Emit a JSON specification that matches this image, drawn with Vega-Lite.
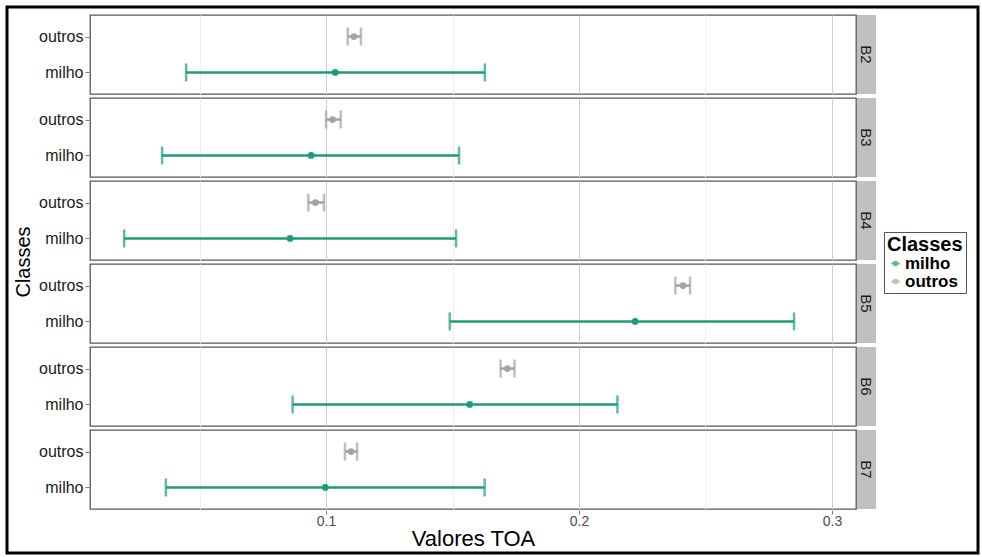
{
  "$schema": "https://vega.github.io/schema/vega-lite/v6.json",
  "background": "white",
  "autosize": {"type": "pad"},
  "padding": {"left": 5, "top": 5, "right": 0, "bottom": 0},
  "data": {
    "values": [
      {"banda": "B2", "classe": "outros", "media": 0.1110, "minimo": 0.1086, "maximo": 0.1138},
      {"banda": "B2", "classe": "milho", "media": 0.1036, "minimo": 0.0447, "maximo": 0.1628},
      {"banda": "B3", "classe": "outros", "media": 0.1026, "minimo": 0.1000, "maximo": 0.1058},
      {"banda": "B3", "classe": "milho", "media": 0.0941, "minimo": 0.0352, "maximo": 0.1526},
      {"banda": "B4", "classe": "outros", "media": 0.0958, "minimo": 0.0930, "maximo": 0.0992},
      {"banda": "B4", "classe": "milho", "media": 0.0858, "minimo": 0.0202, "maximo": 0.1514},
      {"banda": "B5", "classe": "outros", "media": 0.2411, "minimo": 0.2381, "maximo": 0.2439},
      {"banda": "B5", "classe": "milho", "media": 0.2222, "minimo": 0.1489, "maximo": 0.2850},
      {"banda": "B6", "classe": "outros", "media": 0.1717, "minimo": 0.1690, "maximo": 0.1745},
      {"banda": "B6", "classe": "milho", "media": 0.1568, "minimo": 0.0868, "maximo": 0.2152},
      {"banda": "B7", "classe": "outros", "media": 0.1099, "minimo": 0.1075, "maximo": 0.1123},
      {"banda": "B7", "classe": "milho", "media": 0.0997, "minimo": 0.0367, "maximo": 0.1627}
    ]
  },
  "facet": {
    "row": {
      "field": "banda",
      "type": "nominal",
      "header": {
        "labels": false,
        "title": "Classes",
        "titleFont": "Liberation Sans",
        "titleFontSize": 20,
        "titleFontWeight": "normal",
        "titleColor": "#000000",
        "titlePadding": -6
      }
    }
  },
  "spacing": {"row": 2},
  "spec": {
    "width": 766,
    "height": 79,
    "encoding": {
      "y": {
        "field": "classe",
        "type": "nominal",
        "scale": {"type": "point", "domain": ["outros", "milho"], "padding": 0.6},
        "axis": {"title": null}
      }
    },
    "layer": [
      {
        "transform": [{"filter": "datum.classe == 'milho'"}],
        "mark": {"type": "rect", "clip": false, "color": "#c0c0c0", "strokeWidth": 0, "strokeOpacity": 0},
        "encoding": {
          "y": null,
          "x": {
            "datum": 0.3099,
            "type": "quantitative",
            "scale": {"domain": [0.0067, 0.3095], "nice": false, "zero": false},
            "axis": {
              "title": "Valores TOA",
              "values": [0.05, 0.1, 0.15, 0.2, 0.25, 0.3],
              "labelExpr": "abs(datum.value * 10 - round(datum.value * 10)) < 0.001 ? format(datum.value, '.1f') : ''",
              "gridColor": {
                "condition": {"test": "abs(datum.value * 10 - round(datum.value * 10)) < 0.001", "value": "#cdcdcd"},
                "value": "#efefef"
              },
              "tickOpacity": {
                "condition": {"test": "abs(datum.value * 10 - round(datum.value * 10)) < 0.001", "value": 1},
                "value": 0
              }
            }
          },
          "x2": {"datum": 0.3174},
          "stroke": {
            "field": "media",
            "type": "quantitative",
            "legend": {
              "orient": "none",
              "legendX": -83,
              "legendY": -8,
              "direction": "horizontal",
              "title": null,
              "labelExpr": "''",
              "labelOpacity": 0,
              "labelFontSize": 1,
              "labelOffset": 0,
              "gradientLength": 971,
              "gradientThickness": 545,
              "gradientOpacity": 0,
              "gradientStrokeWidth": 0,
              "padding": 0,
              "strokeColor": "#000000",
              "encode": {"legend": {"update": {"strokeWidth": {"value": 3}}}}
            }
          }
        }
      },
      {
        "transform": [{"filter": "datum.classe == 'milho'"}],
        "mark": {"type": "text", "clip": false, "angle": 90, "fontSize": 15, "color": "#1a1a1a", "baseline": "middle", "align": "center"},
        "encoding": {
          "y": null,
          "x": {"datum": 0.31365, "type": "quantitative"},
          "text": {"field": "banda", "type": "nominal"}
        }
      },
      {
        "mark": {"type": "rule", "strokeWidth": 2.5},
        "encoding": {
          "x": {"field": "minimo", "type": "quantitative"},
          "x2": {"field": "maximo"},
          "color": {"field": "classe", "type": "nominal"}
        }
      },
      {
        "mark": {"type": "tick", "thickness": 2.5, "size": 18},
        "encoding": {
          "x": {"field": "minimo", "type": "quantitative"},
          "color": {"field": "classe", "type": "nominal"}
        }
      },
      {
        "mark": {"type": "tick", "thickness": 2.5, "size": 18},
        "encoding": {
          "x": {"field": "maximo", "type": "quantitative"},
          "color": {"field": "classe", "type": "nominal"}
        }
      },
      {
        "mark": {"type": "point", "filled": true, "size": 45, "opacity": 1},
        "encoding": {
          "x": {"field": "media", "type": "quantitative"},
          "color": {
            "field": "classe",
            "type": "nominal",
            "scale": {"domain": ["milho", "outros"], "range": ["#1b9e77", "#a3a3a3"]},
            "legend": {
              "title": "Classes",
              "orient": "none",
              "legendX": 794,
              "legendY": 217,
              "symbolType": "M-1,0H1M0.4,0A0.4,0.4,0,1,1,-0.4,0A0.4,0.4,0,1,1,0.4,0Z",
              "symbolSize": 70,
              "symbolStrokeWidth": 2,
              "encode": {
                "symbols": {"update": {"stroke": {"scale": "color", "field": "value"}}}
              }
            }
          }
        }
      }
    ]
  },
  "config": {
    "font": "Liberation Sans",
    "view": {"stroke": "#585858", "strokeWidth": 1.3},
    "axisY": {
      "domain": false,
      "grid": false,
      "tickColor": "#7f7f7f",
      "tickSize": 4,
      "labelFontSize": 16,
      "labelColor": "#1a1a1a",
      "labelPadding": 2
    },
    "axisX": {
      "domain": false,
      "grid": true,
      "gridWidth": 1,
      "tickColor": "#7f7f7f",
      "tickSize": 4,
      "labelFontSize": 14,
      "labelColor": "#4d4d4d",
      "labelPadding": 0,
      "titleFontSize": 22,
      "titleFontWeight": "normal",
      "titleColor": "#000000",
      "titlePadding": 0
    },
    "legend": {
      "titleFontSize": 20,
      "titleFontWeight": "bold",
      "titleColor": "#000000",
      "titlePadding": 0,
      "labelFontSize": 17,
      "labelFontWeight": "bold",
      "labelColor": "#000000",
      "labelOffset": 1,
      "rowPadding": 0,
      "strokeColor": "#555555",
      "padding": 3,
      "cornerRadius": 0
    }
  }
}
